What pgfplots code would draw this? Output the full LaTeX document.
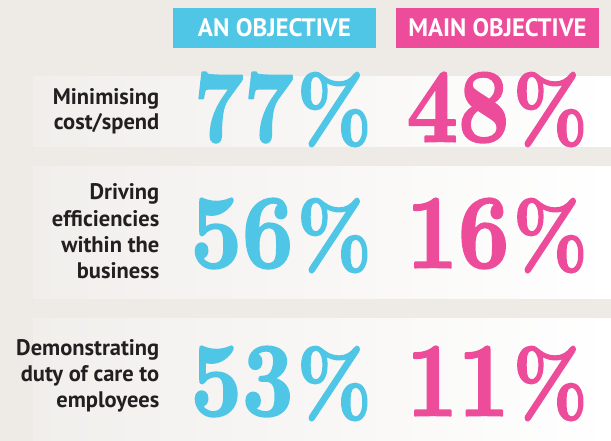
\documentclass[border=0pt]{standalone}
\usepackage{pgfplots}
\pgfplotsset{compat=1.18}
\usepackage{fontspec}
\newfontfamily\ptsans{PT Sans}
\definecolor{bgc}{HTML}{EEEBE7}
\definecolor{bandl}{HTML}{F1EFEC}
\definecolor{cyanc}{HTML}{4FC6E6}
\definecolor{pinkc}{HTML}{EC4C9A}
\definecolor{txtc}{HTML}{231F20}
\newcommand\strokeon{\special{pdf:literal direct 2 Tr 0.2 w 1 j}}
\newcommand\strokeoff{\special{pdf:literal direct 0 Tr}}
\newcommand\bignum[1]{\bfseries\scalebox{0.85}[1]{\resizebox{!}{69pt}{\strokeon #1\strokeoff}\hspace{4pt}\resizebox{!}{69pt}{\strokeon\%\strokeoff}}}
\newcommand\lab[3]{\node[anchor=base east, inner sep=0pt, text=txtc, font=\ptsans\bfseries\fontsize{22.5}{25}\selectfont] at (axis cs:#1,#2) {#3};}
\begin{document}
\begin{tikzpicture}
\begin{axis}[width=611pt, height=441pt, scale only axis,
  xmin=0, xmax=611, ymin=0, ymax=441, y dir=reverse,
  axis lines=none, clip=false]
% background and bands
\fill[bgc] (axis cs:0,0) rectangle (axis cs:611,441);
\shade[left color=bandl, right color=white] (axis cs:33,77) rectangle (axis cs:611,147);
\shade[left color=bandl, right color=white] (axis cs:33,167) rectangle (axis cs:611,298);
\shade[left color=bandl, right color=white] (axis cs:33,318) rectangle (axis cs:611,441);
% header boxes
\fill[cyanc] (axis cs:173,8) rectangle (axis cs:376,48);
\fill[pinkc] (axis cs:396,8) rectangle (axis cs:599,48);
\node[inner sep=0pt, text=white] at (axis cs:274.5,27.5) {\resizebox{153pt}{18pt}{\ptsans\bfseries AN OBJECTIVE}};
\node[inner sep=0pt, text=white] at (axis cs:497.5,27.5) {\resizebox{178pt}{18pt}{\ptsans\bfseries MAIN OBJECTIVE}};
% row labels
\lab{159.5}{105}{Minimising}
\lab{159.5}{130}{cost/spend}
\lab{159.5}{200}{Driving}
\lab{159.5}{226}{efficiencies}
\lab{159.5}{252}{within the}
\lab{159.5}{278}{business}
\lab{159.5}{355}{Demonstrating}
\lab{159.5}{381}{duty of care to}
\lab{159.5}{407}{employees}
% An objective
\addplot[only marks, mark=none, point meta=explicit symbolic,
  nodes near coords={\bignum{\pgfplotspointmeta}},
  nodes near coords style={anchor=base east, inner sep=0pt, text=cyanc}]
  table[meta=v] {
x y v
372 141.5 77
372 267.5 56
372 415.5 53
};
% Main objective
\addplot[only marks, mark=none, point meta=explicit symbolic,
  nodes near coords={\bignum{\pgfplotspointmeta}},
  nodes near coords style={anchor=base east, inner sep=0pt, text=pinkc}]
  table[meta=v] {
x y v
588 141.5 48
588 267.5 16
588 415.5 11
};
\end{axis}
\end{tikzpicture}
\end{document}
